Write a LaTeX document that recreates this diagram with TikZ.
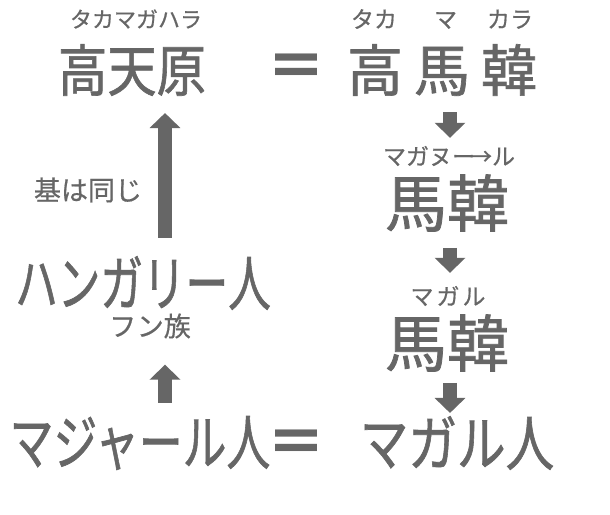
\documentclass[tikz,border=0pt]{standalone}
\usepackage{fontspec}
\usetikzlibrary{arrows.meta,calc}
\newfontfamily\jp[FakeBold=0.6]{Noto Sans CJK JP}
\newfontfamily\jpb[FakeBold=1.2]{Noto Sans CJK JP}
\newfontfamily\jpeq{Noto Sans CJK JP}
\definecolor{ink}{HTML}{666666}
\tikzset{
  bigtext/.style={inner sep=0pt, text=ink, font=\jpb\fontsize{56}{56}\selectfont},
  midtext/.style={inner sep=0pt, text=ink, font=\jpb\fontsize{62}{62}\selectfont},
  smalltext/.style={inner sep=0pt, text=ink, font=\jp\fontsize{23}{23}\selectfont},
  labeltext/.style={inner sep=0pt, text=ink, font=\jp\fontsize{27}{27}\selectfont},
  eqsign/.style={inner sep=0pt, text=ink, font=\jpeq\bfseries\fontsize{60}{60}\selectfont},
  blockarrow/.style={draw=ink, line width=14pt, -{Triangle[length=15pt,width=30pt]}},
}
\begin{document}
\begin{tikzpicture}[x=1pt,y=-1pt]
\useasboundingbox (0,0) rectangle (610,514);
\fill[white] (0,0) rectangle (610,514);
\coordinate (axL) at (165,0);
\coordinate (axR) at (450,0);
% top row
\node[smalltext, font=\jp\fontsize{22}{22}\selectfont] (ruby1) at (136,19) {タカマガハラ};
\node[bigtext] (top1) at (132,70) {\scalebox{0.88}[1]{高天原}};
\node[eqsign] (eq1) at (296,71) {＝};
\node[smalltext] (ruby2) at (442,19) {タカ\hspace{37pt}マ\hspace{30pt}カラ};
\node[bigtext] (top2) at (442,70) {高\hspace{11pt}馬\hspace{11pt}韓};
% right column
\node[smalltext] (ruby3) at (449,156) {マガヌー\kern-6pt→ル};
\node[midtext] (mid1) at (447,203) {馬韓};
\node[smalltext] (ruby4) at (448,296) {マ\hspace{3pt}ガ\hspace{3pt}ル};
\node[midtext] (mid2) at (447,343) {馬韓};
\node[bigtext, font=\jpb\fontsize{60}{60}\selectfont] (botR) at (457,443) {\scalebox{0.81}[1]{マガル人}};
\node[eqsign] (eq2) at (296,447) {＝};
% left column
\node[bigtext, font=\jpb\fontsize{60}{60}\selectfont] (botL) at (140,443) {\scalebox{0.73}[1]{マジャール人}};
\node[bigtext, font=\jpb\fontsize{60}{60}\selectfont] (hung) at (143,283) {\scalebox{0.71}[1]{ハンガリー人}};
\node[labeltext] (fun) at (150,326) {フン族};
\node[labeltext] (kiha) at (88,190) {基は同じ};
% arrows
\draw[blockarrow] ($(hung.north -| axL)+(0,-18)$) -- ($(top1.south -| axL)+(0,17)$);
\draw[blockarrow] ($(botL.north -| axL)+(0,-13)$) -- ($(fun.south -| axL)+(0,26)$);
\draw[blockarrow] ($(top2.south -| axR)+(0,16)$) -- ($(ruby3.north -| axR)+(0,-8)$);
\draw[blockarrow] ($(mid1.south -| axR)+(0,16)$) -- ($(ruby4.north -| axR)+(0,-13)$);
\draw[blockarrow] ($(mid2.south -| axR)+(0,11)$) -- ($(botR.north -| axR)+(0,-3)$);
\end{tikzpicture}
\end{document}
